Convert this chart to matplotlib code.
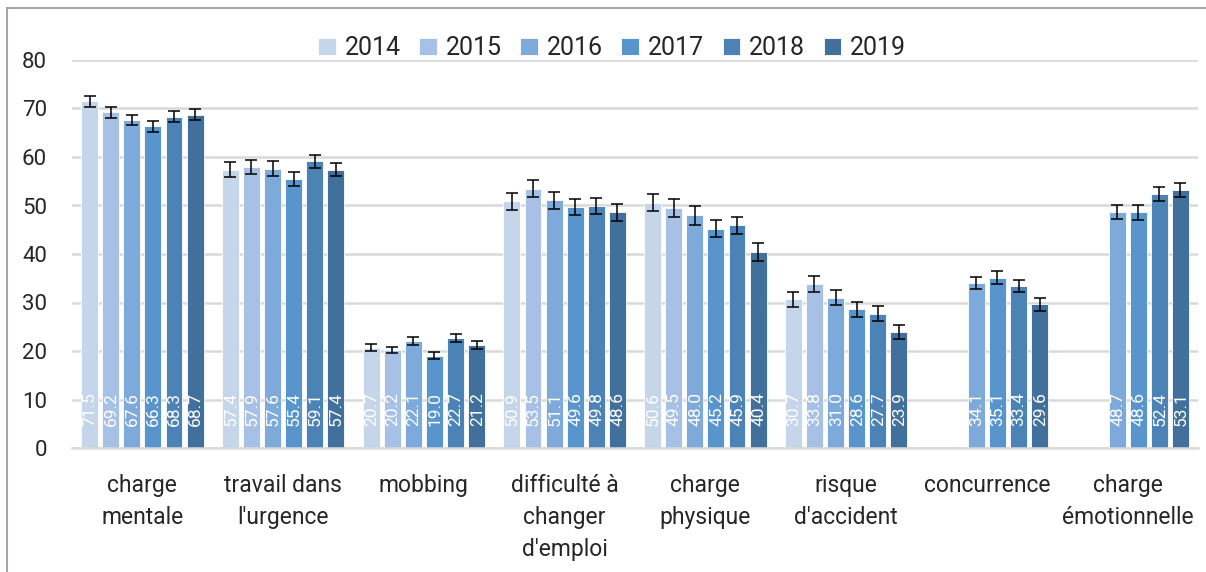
import numpy as np
import matplotlib
import matplotlib.pyplot as plt
from matplotlib.patches import Rectangle

matplotlib.use("agg")

categories = ["charge\nmentale", "travail dans\nl'urgence", "mobbing", "difficulté à\nchanger\nd'emploi",
              "charge\nphysique", "risque\nd'accident", "concurrence", "charge\némotionnelle"]
years = ["2014", "2015", "2016", "2017", "2018", "2019"]
nan = np.nan

v2014 = [71.5, 57.4, 20.7, 50.9, 50.6, 30.7, nan, nan]
v2015 = [69.2, 57.9, 20.2, 53.5, 49.5, 33.8, nan, nan]
v2016 = [67.6, 57.6, 22.1, 51.1, 48.0, 31.0, 34.1, 48.7]
v2017 = [66.3, 55.4, 19.0, 49.6, 45.2, 28.6, 35.1, 48.6]
v2018 = [68.3, 59.1, 22.7, 49.8, 45.9, 27.7, 33.4, 52.4]
v2019 = [68.7, 57.4, 21.2, 48.6, 40.4, 23.9, 29.6, 53.1]

e2014 = [1.1, 1.5, 0.8, 1.75, 1.8, 1.55, nan, nan]
e2015 = [1.1, 1.45, 0.7, 1.75, 1.8, 1.65, nan, nan]
e2016 = [1.1, 1.5, 0.8, 1.75, 1.95, 1.55, 1.25, 1.5]
e2017 = [1.1, 1.45, 0.75, 1.65, 1.75, 1.5, 1.35, 1.5]
e2018 = [1.1, 1.3, 0.8, 1.65, 1.7, 1.5, 1.2, 1.45]
e2019 = [1.1, 1.4, 0.8, 1.7, 1.8, 1.5, 1.25, 1.45]

values = [v2014, v2015, v2016, v2017, v2018, v2019]
errors = [e2014, e2015, e2016, e2017, e2018, e2019]
colors = ["#C5D5EA", "#A6C1E5", "#7DAADA", "#5795CC", "#4C83B7", "#41709C"]

plt.rcParams["font.family"] = ["Roboto", "DejaVu Sans"]

fig = plt.figure(figsize=(12.06, 5.72), dpi=100)
ax = fig.add_axes([72 / 1206, 1 - 448 / 572, 1126 / 1206, 388 / 572])

x = np.arange(len(categories))
step = 0.15
width = 0.12
for i, (vals, errs) in enumerate(zip(values, errors)):
    pos = x + (i - 2.5) * step
    ax.bar(pos, vals, width, color=colors[i], edgecolor="white", linewidth=0.6,
           label=years[i], zorder=2)
    ax.errorbar(pos, vals, yerr=errs, fmt="none", ecolor="black", elinewidth=1.1,
                capsize=4.5, capthick=1.1, zorder=3)
    for p, v in zip(pos, vals):
        if not np.isnan(v):
            ax.annotate(f"{v:.1f}", (p, 0), xytext=(0.5, 16), textcoords="offset points",
                        rotation=90, ha="center", va="bottom", color="white", fontsize=12.5,
                        zorder=4)

ax.set_xlim(-0.5, len(categories) - 0.5)
ax.set_ylim(0, 80)
ax.set_yticks(np.arange(0, 81, 10))
ax.set_xticks(x)
ax.set_xticklabels(categories, fontsize=16.5, linespacing=1.5, color="#262626")
ax.tick_params(axis="y", length=0, pad=18, labelsize=16, labelcolor="#262626")
ax.tick_params(axis="x", length=0, pad=19)
ax.grid(axis="y", color="#D9D9D9", linewidth=1.8, zorder=0)
ax.set_axisbelow(True)
for s in ["top", "right", "left"]:
    ax.spines[s].set_visible(False)
ax.spines["bottom"].set_color("#D9D9D9")
ax.spines["bottom"].set_linewidth(1.8)

fig.legend(loc="center", bbox_to_anchor=(612 / 1206, 1 - 48 / 572), ncol=6, frameon=False,
           fontsize=18, handlelength=0.7, handleheight=0.7, handletextpad=0.35,
           columnspacing=0.75, labelcolor="#262626")

fig.patches.append(Rectangle((7 / 1206, -0.1), 1.2, 1.1 - 8 / 572, transform=fig.transFigure,
                             fill=False, edgecolor="#A6A6A6", linewidth=1.5))

fig.savefig("out.png", dpi=100)
